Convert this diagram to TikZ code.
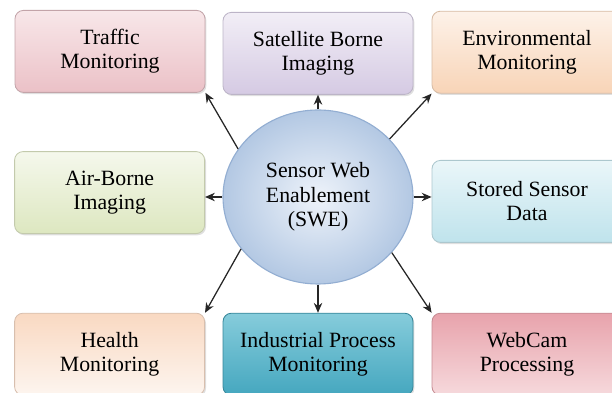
\documentclass[tikz,border=0pt]{standalone}
\usepackage{fontspec}
\setmainfont{Liberation Serif}
\usetikzlibrary{shapes.geometric, arrows.meta, shadows}

\begin{document}
\begin{tikzpicture}

        % Setup the styles for the boxes, the hub and the arrows
        \tikzset{box style/.style={rectangle,
                                   rounded corners=6pt,
                                   minimum width=4.75cm,
                                   minimum height=2.05cm,
                                   align=center,
                                   line width=0.6pt,
                                   drop shadow={opacity=0.25, shadow xshift=1pt, shadow yshift=-1.2pt},
                                   font=\fontsize{15.5}{17}\selectfont},
                 hub style/.style={ellipse,
                                   minimum width=4.75cm,
                                   minimum height=4.35cm,
                                   inner sep=0pt,
                                   align=center,
                                   draw=hubline,
                                   line width=0.8pt,
                                   inner color=hubin,
                                   outer color=hubout,
                                   font=\fontsize{15.5}{17.5}\selectfont},
                 arrow style/.style={-{Stealth[length=7pt, width=6pt]},
                                     line width=0.9pt,
                                     black!85}}

        % Colours of the hub and the boxes
        \definecolor{hubin}{HTML}{EEF3FA}
        \definecolor{hubout}{HTML}{B3C8E3}
        \definecolor{hubline}{HTML}{93AED2}
        \definecolor{trafficA}{HTML}{F8E7E9}
        \definecolor{trafficB}{HTML}{EBC1C7}
        \definecolor{satA}{HTML}{F2EEF6}
        \definecolor{satB}{HTML}{D5CAE3}
        \definecolor{envA}{HTML}{FDF2E9}
        \definecolor{envB}{HTML}{F8D4B7}
        \definecolor{airA}{HTML}{F5F8EC}
        \definecolor{airB}{HTML}{DDE7C0}
        \definecolor{storedA}{HTML}{EAF6F9}
        \definecolor{storedB}{HTML}{BFE3EC}
        \definecolor{healthA}{HTML}{F9D9C2}
        \definecolor{healthB}{HTML}{FDF5EF}
        \definecolor{indA}{HTML}{86CCDB}
        \definecolor{indB}{HTML}{45A7BF}
        \definecolor{camA}{HTML}{E8A3AC}
        \definecolor{camB}{HTML}{F6D9DC}

% Fix the frame
\clip (0,0) rectangle (15.3,9.825);

% Add the hub
\node[hub style] at (7.95,4.9) (swe) {Sensor Web\\Enablement\\(SWE)};

% Add the boxes
\node[box style, draw=trafficB!80!black!90, top color=trafficA, bottom color=trafficB]
      at (2.75,8.54) (traffic) {Traffic\\Monitoring};
\node[box style, draw=satB!85!black!90, top color=satA, bottom color=satB]
      at (7.95,8.49) (satellite) {Satellite Borne\\Imaging};
\node[box style, draw=envB!85!black!90, top color=envA, bottom color=envB]
      at (13.175,8.52) (environ) {Environmental\\Monitoring};

\node[box style, draw=airB!85!black!90, top color=airA, bottom color=airB]
      at (2.74,5.01) (airborne) {Air-Borne\\Imaging};
\node[box style, draw=storedB!85!black!90, top color=storedA, bottom color=storedB]
      at (13.175,4.79) (stored) {Stored Sensor\\Data};

\node[box style, draw=healthA!85!black!90, top color=healthA, bottom color=healthB]
      at (2.74,0.97) (health) {Health\\Monitoring};
\node[box style, draw=indB!80!black, top color=indA, bottom color=indB]
      at (7.95,0.97) (industrial) {Industrial Process\\Monitoring};
\node[box style, draw=camA!85!black, top color=camA, bottom color=camB]
      at (13.175,0.97) (webcam) {WebCam\\Processing};

	 \path
	  (swe.149) edge[arrow style] (traffic.south east)
		(swe.north) edge[arrow style] (satellite.south)
		(swe.39) edge[arrow style] (environ.south west)
		(swe.west) edge[arrow style] (airborne.east |- swe.west)
		(swe.east) edge[arrow style] (stored.west |- swe.east)
		(swe.214) edge[arrow style] (health.north east)
		(swe.south) edge[arrow style] (industrial.north)
		(swe.323) edge[arrow style] (webcam.north west);
\end{tikzpicture}
\end{document}
